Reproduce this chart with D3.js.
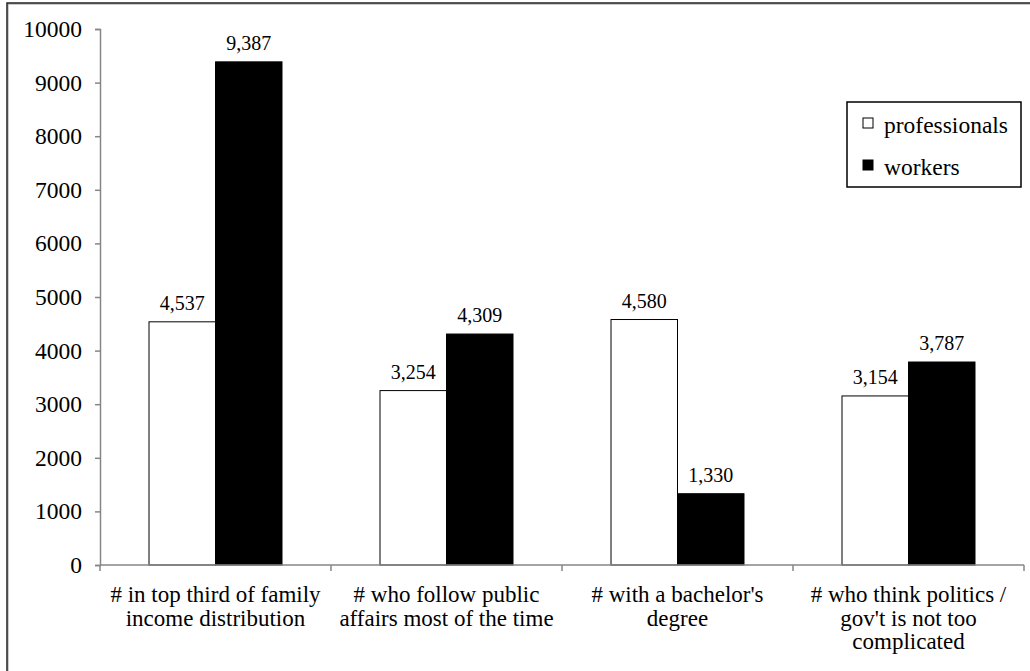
<!DOCTYPE html>
<html>
<head>
<meta charset="utf-8">
<script src="https://cdn.jsdelivr.net/npm/d3@7"></script>
<style>
  html, body { margin: 0; padding: 0; background: #fff; }
  svg { display: block; }
  svg text { font-family: "Liberation Serif", "Times New Roman", "DejaVu Serif", serif; fill: #000; }
</style>
</head>
<body>
<svg id="chart" width="1030" height="671"></svg>
<script>
// Category labels (each entry is the wrapped lines of one label)
const categories = [
  ["# in top third of family", "income distribution"],
  ["# who follow public", "affairs most of the time"],
  ["# with a bachelor's", "degree"],
  ["# who think politics /", "gov't is not too", "complicated"]
];
const seriesNames = ["professionals", "workers"];
const professionals = [4537, 3254, 4580, 3154];
const workers = [9387, 4309, 1330, 3787];
const yTicks = [0, 1000, 2000, 3000, 4000, 5000, 6000, 7000, 8000, 9000, 10000];

const seriesFill = { professionals: "#ffffff", workers: "#000000" };
const serif = "'Liberation Serif', 'Times New Roman', 'DejaVu Serif', serif";

const svg = d3.select("#chart");

// Outer frame
svg.append("rect")
  .attr("x", 8).attr("y", 4).attr("width", 1040).attr("height", 700)
  .attr("fill", "none").attr("stroke", "#9a9a9a").attr("stroke-width", 1);
svg.append("rect")
  .attr("x", 7).attr("y", 3).attr("width", 1040).attr("height", 700)
  .attr("fill", "none").attr("stroke", "#222").attr("stroke-width", 1.5);

const plot = { left: 100, right: 1024, top: 29, bottom: 565 };

const x0 = d3.scaleBand()
  .domain(d3.range(categories.length))
  .range([plot.left, plot.right])
  .paddingInner(0).paddingOuter(0);

const x1 = d3.scaleBand()
  .domain(seriesNames)
  .range([0, x0.bandwidth()])
  .paddingInner(0).paddingOuter(0.737);

const y = d3.scaleLinear().domain([0, 10000]).range([plot.bottom, plot.top]);

const axisColor = "#868686";

// Y axis
const yAxis = svg.append("g")
  .attr("transform", `translate(${plot.left},0)`)
  .call(d3.axisLeft(y).tickValues(yTicks).tickSize(5).tickPadding(13).tickFormat(d3.format("d")))
  .attr("font-family", serif);
yAxis.select(".domain").attr("stroke", axisColor).attr("stroke-width", 1.5);
yAxis.selectAll(".tick line").attr("stroke", axisColor).attr("stroke-width", 1.5);
yAxis.selectAll(".tick text")
  .attr("fill", "#000").attr("font-size", 23.5)
  .attr("font-family", serif);

// Bars
const rows = categories.map((c, i) => ({ i, professionals: professionals[i], workers: workers[i] }));

const groups = svg.append("g").selectAll("g")
  .data(rows).join("g")
  .attr("transform", d => `translate(${x0(d.i)},0)`);

groups.selectAll("rect")
  .data(d => seriesNames.map(s => ({ key: s, value: d[s] })))
  .join("rect")
  .attr("x", d => x1(d.key))
  .attr("y", d => y(d.value))
  .attr("width", x1.bandwidth())
  .attr("height", d => y(0) - y(d.value))
  .attr("fill", d => seriesFill[d.key])
  .attr("stroke", "#000")
  .attr("stroke-width", 1);

groups.selectAll("text.value")
  .data(d => seriesNames.map(s => ({ key: s, value: d[s] })))
  .join("text")
  .attr("class", "value")
  .attr("x", d => x1(d.key) + x1.bandwidth() / 2)
  .attr("y", d => y(d.value) - 12)
  .attr("text-anchor", "middle")
  .attr("font-family", serif)
  .attr("font-size", 20)
  .text(d => d3.format(",")(d.value));

// X axis
const xAxisG = svg.append("g");
xAxisG.append("line")
  .attr("x1", plot.left).attr("x2", plot.right)
  .attr("y1", y(0)).attr("y2", y(0))
  .attr("stroke", axisColor).attr("stroke-width", 1.5);
const boundaries = d3.range(categories.length + 1).map(i => i < categories.length ? x0(i) : x0(i - 1) + x0.bandwidth());
xAxisG.selectAll("line.tick")
  .data(boundaries).join("line")
  .attr("class", "tick")
  .attr("x1", d => d).attr("x2", d => d)
  .attr("y1", y(0)).attr("y2", y(0) + 6)
  .attr("stroke", axisColor).attr("stroke-width", 1.5);

// Category labels
const catLabels = svg.append("g").selectAll("text")
  .data(categories).join("text")
  .attr("x", (d, i) => x0(i) + x0.bandwidth() / 2)
  .attr("y", 602)
  .attr("text-anchor", "middle")
  .attr("font-family", serif)
  .attr("font-size", 23);
catLabels.selectAll("tspan")
  .data((d, i) => d.map(line => ({ line, cx: x0(i) + x0.bandwidth() / 2 })))
  .join("tspan")
  .attr("x", d => d.cx)
  .attr("dy", (d, j) => j === 0 ? 0 : 23.5)
  .text(d => d.line);

// Legend
const legend = svg.append("g");
legend.append("rect")
  .attr("x", 847).attr("y", 102).attr("width", 174).attr("height", 85)
  .attr("fill", "#fff").attr("stroke", "#000").attr("stroke-width", 1.5);
const legendItems = legend.selectAll("g.item")
  .data(seriesNames).join("g")
  .attr("class", "item")
  .attr("transform", (d, i) => `translate(863, ${118 + i * 42})`);
legendItems.append("rect")
  .attr("width", 10).attr("height", 10)
  .attr("fill", d => seriesFill[d]).attr("stroke", "#000").attr("stroke-width", 1);
legendItems.append("text")
  .attr("x", 21).attr("y", 15)
  .attr("font-family", serif)
  .attr("font-size", 23.5)
  .text(d => d);
</script>
</body>
</html>
